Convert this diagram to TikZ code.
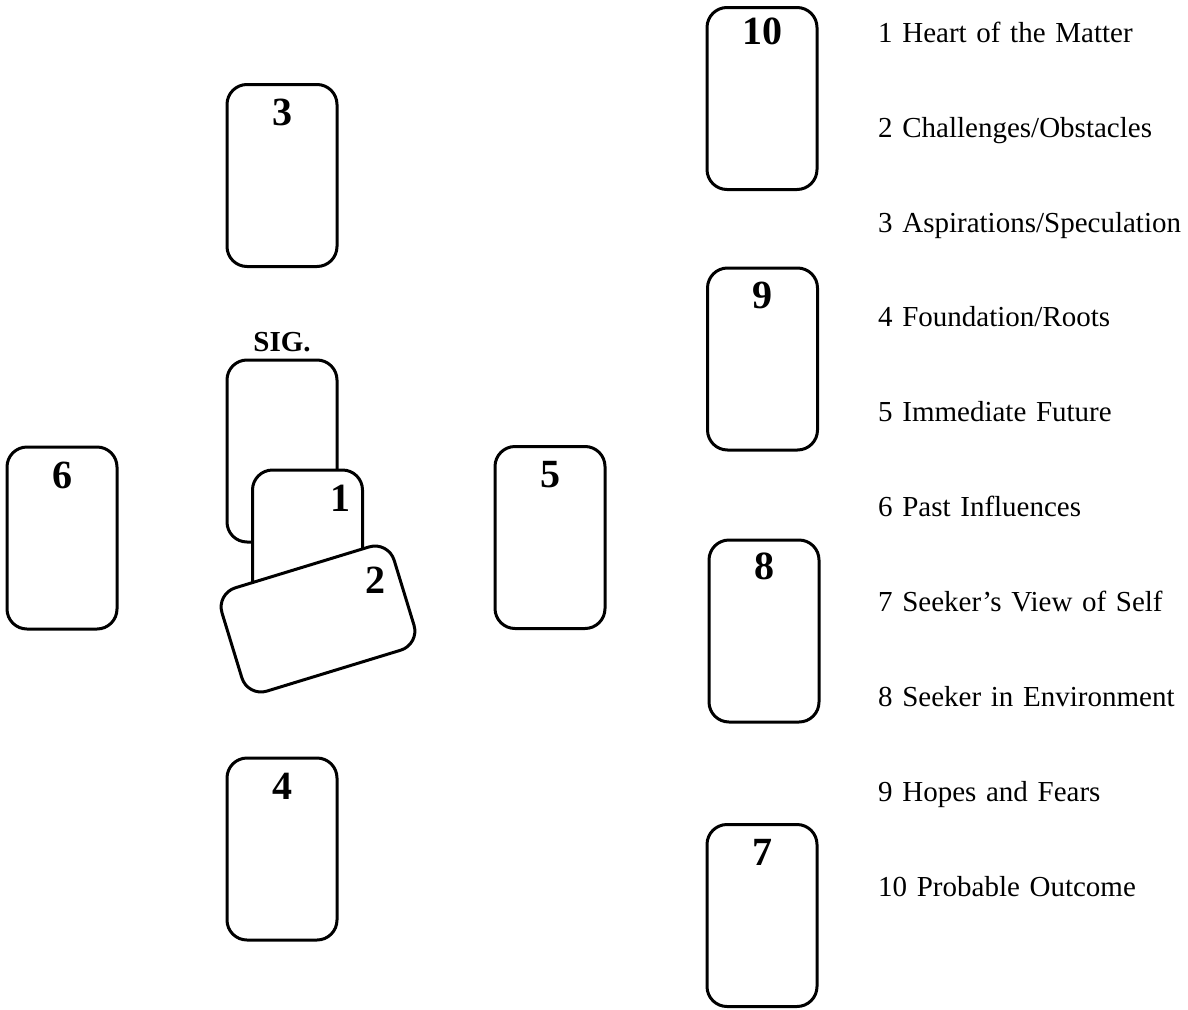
\documentclass[tikz,border=0pt]{standalone}
\usepackage{fontspec}
\setmainfont{Liberation Serif}
\usepackage{tikz}
\usetikzlibrary{positioning}

\begin{document}
\begin{tikzpicture}[x=1pt, y=-1pt, node distance=67.5pt, card/.style={rectangle, rounded corners=20pt, draw=black, line width=3pt, fill=white, minimum width=110pt, minimum height=182pt}, num/.style={inner sep=0pt, font=\fontsize{40}{40}\selectfont\bfseries}, item/.style={inner sep=0pt, text width=320pt, align=left, text height=20pt, text depth=7pt, font=\fontsize{29}{34}\selectfont}]
\useasboundingbox (0,0) rectangle (1188,1009);
% spread on the left
\node[card] (c3) at (282,175.5) {};
\node[card] (csig) at (282,451) {};
\node[card] (c1) at (307.5,561) {};
\node[card, minimum width=180pt, minimum height=108pt, rotate=17] (c2) at (318,619) {};
\node[card] (c6) at (62,538) {};
\node[card] (c5) at (550,537.5) {};
\node[card] (c4) at (282,849) {};
\node[num, below=16pt of c3.north] (n3) {3};
\node[num, below=16pt of c6.north] (n6) {6};
\node[num, below=16pt of c5.north] (n5) {5};
\node[num, below=16pt of c4.north] (n4) {4};
\node[num] (n1) at (340,498) {1};
\node[num] (n2) at (375,580) {2};
\node[inner sep=0pt, font=\fontsize{29}{29}\selectfont\bfseries, above=6pt of csig] (sig) {SIG.};
% staff on the right
\node[card] (c10) at (762,98.5) {};
\node[card] (c9) at (762.5,359) {};
\node[card] (c8) at (764,631) {};
\node[card] (c7) at (762,915.5) {};
\node[num, below=12pt of c10.north] (n10) {10};
\node[num, below=15pt of c9.north] (n9) {9};
\node[num, below=14pt of c8.north] (n8) {8};
\node[num, below=16pt of c7.north] (n7) {7};
% legend
\node[item, anchor=north west] (l1) at (878,22) {1 Heart of the Matter};
\node[item, below=of l1] (l2) {2 Challenges/Obstacles};
\node[item, below=of l2] (l3) {3 Aspirations/Speculation};
\node[item, below=of l3] (l4) {4 Foundation/Roots};
\node[item, below=of l4] (l5) {5 Immediate Future};
\node[item, below=of l5] (l6) {6 Past Influences};
\node[item, below=of l6] (l7) {7 Seeker’s View of Self};
\node[item, below=of l7] (l8) {8 Seeker in Environment};
\node[item, below=of l8] (l9) {9 Hopes and Fears};
\node[item, below=of l9] (l10) {10 Probable Outcome};
\end{tikzpicture}
\end{document}
